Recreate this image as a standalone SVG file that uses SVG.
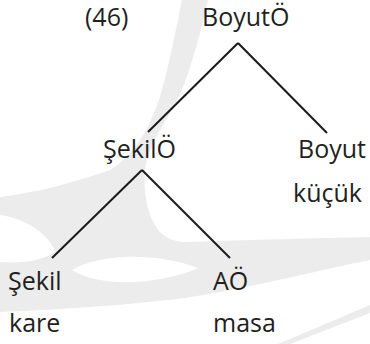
<svg xmlns="http://www.w3.org/2000/svg" width="370" height="344" viewBox="0 0 370 344">
  <style>
    .wm { fill: #ececec; }
    .bg { fill: #ffffff; }
    .lbl { font-family: "Open Sans", "Liberation Sans", sans-serif; font-size: 25px; fill: #231f20; }
    .edge { stroke: #1a1a1a; stroke-width: 2; fill: none; stroke-linecap: butt; }
  </style>
  <rect width="370" height="344" fill="#ffffff"/>

  <!-- faint background watermark -->
  <g id="watermark">
    <path class="wm" d="M182,0 L208,0 C200,35 192,65 180,95 C168,120 150,140 145,170 C143,195 148,220 162,234 C170,240 178,242 185,242 C250,240 320,238 370,237 L370,260 C320,270 250,288 185,298 C120,306 50,310 0,312 L0,197 C40,192 75,182 110,170 C135,155 152,125 162,90 C170,60 176,30 182,0 Z"/>
    <path class="bg" d="M0,215 C25,218 50,235 55,252 C40,262 20,263 0,262 Z"/>
    <path class="bg" d="M72,270 C95,256 150,250 198,268 C160,285 100,288 72,270 Z"/>
    <path class="wm" d="M278,344 L370,305 L370,313 L290,344 Z"/>
  </g>

  <!-- tree edges -->
  <g id="connectors">
    <line class="edge" x1="238" y1="43" x2="148" y2="132"/>
    <line class="edge" x1="238" y1="43" x2="327" y2="133"/>
    <line class="edge" x1="142" y1="170" x2="52" y2="258"/>
    <line class="edge" x1="142" y1="170" x2="230" y2="258"/>
  </g>

  <g id="label-46"><text class="lbl" x="85" y="26">(46)</text></g>
  <g id="node-boyutO"><text class="lbl" x="202" y="26">BoyutÖ</text></g>
  <g id="node-sekilO"><text class="lbl" x="103" y="158">ŞekilÖ</text></g>
  <g id="node-boyut">
    <text class="lbl" x="298" y="158">Boyut</text>
    <text class="lbl" x="293" y="202">küçük</text>
  </g>
  <g id="node-sekil">
    <text class="lbl" x="8" y="290">Şekil</text>
    <text class="lbl" x="9" y="332">kare</text>
  </g>
  <g id="node-aO">
    <text class="lbl" x="213" y="290">AÖ</text>
    <text class="lbl" x="213" y="332">masa</text>
  </g>
</svg>
